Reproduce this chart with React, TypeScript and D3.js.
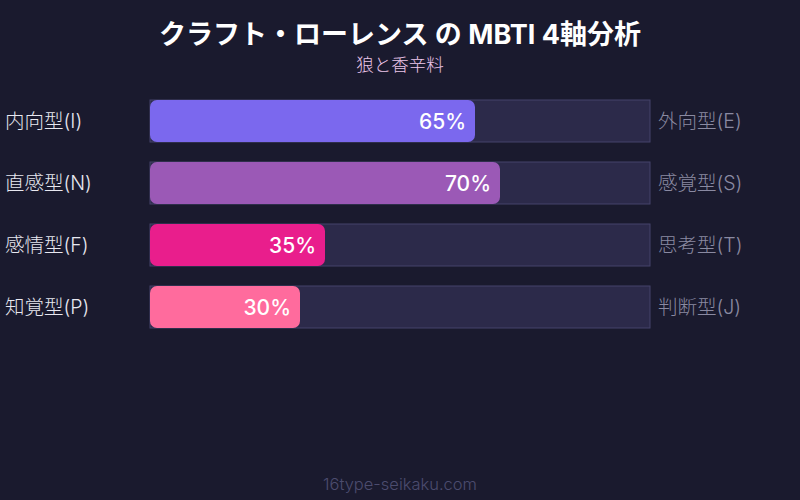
import React from 'react';
import * as d3 from 'd3';

const leftLabels = ['内向型(I)', '直感型(N)', '感情型(F)', '知覚型(P)'];
const rightLabels = ['外向型(E)', '感覚型(S)', '思考型(T)', '判断型(J)'];
const values = [65, 70, 35, 30];
const colors = ['#7b68ee', '#9b59b6', '#e91e8c', '#ff6b9d'];

const W = 800;
const H = 500;
const FONT = "Inter, 'Noto Sans CJK JP', sans-serif";

export default function App() {
  const x = d3.scaleLinear().domain([0, 100]).range([150, 650]);
  // rows of 42px height, 62px apart
  const y = d3
    .scaleBand<number>()
    .domain(d3.range(values.length))
    .range([100, 100 + 62 * (values.length - 1) + 42])
    .paddingInner(20 / 62)
    .paddingOuter(0);
  const bh = y.bandwidth();

  return (
    <svg
      width={W}
      height={H}
      style={{ display: 'block', position: 'absolute', left: 0, top: 0 }}
      fontFamily={FONT}
    >
      <rect width={W} height={H} fill="#1a1a2e" />
      <text x={400} y={44} textAnchor="middle" fill="#ffffff" fontSize={27} fontWeight="bold">
        クラフト・ローレンス の MBTI 4軸分析
      </text>
      <text x={400} y={71} textAnchor="middle" fill="#ecc6ea" fontSize={17.5} fontWeight={300}>
        狼と香辛料
      </text>
      {values.map((v, i) => {
        const top = y(i)!;
        const cy = top + bh / 2;
        return (
          <g key={i}>
            <rect
              x={x(0)}
              y={top}
              width={x(100) - x(0)}
              height={bh}
              fill="#2c2a4a"
              stroke="#45436a"
              strokeWidth={1}
            />
            <rect x={x(0)} y={top} width={x(v) - x(0)} height={bh} rx={7} fill={colors[i]} />
            <text
              x={x(v) - 9}
              y={cy}
              dy="0.36em"
              textAnchor="end"
              fill="#ffffff"
              fontSize={21}
              fontWeight={500}
            >
              {v}%
            </text>
            <text x={5} y={cy} dy="0.36em" fill="#e8e8f0" fontSize={19.5} fontWeight={300}>
              {leftLabels[i]}
            </text>
            <text x={658} y={cy} dy="0.36em" fill="#8a8aa2" fontSize={19.5} fontWeight={300}>
              {rightLabels[i]}
            </text>
          </g>
        );
      })}
      <text x={400} y={490} textAnchor="middle" fill="#4c4c6e" fontSize={16.5} fontWeight={300}>
        16type-seikaku.com
      </text>
    </svg>
  );
}
